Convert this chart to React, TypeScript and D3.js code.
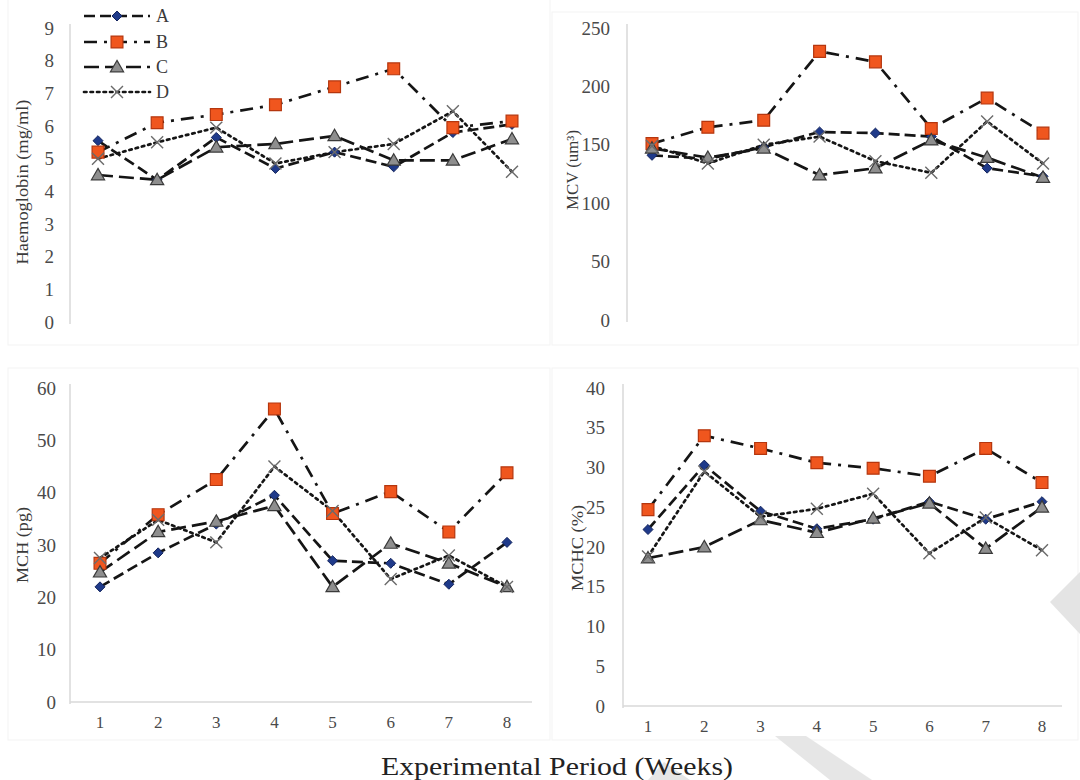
import React from "react";
import * as d3 from "d3";

const weeks = [1, 2, 3, 4, 5, 6, 7, 8];
const seriesNames = ["A", "B", "C", "D"];

const hbA = [5.55, 4.35, 5.65, 4.7, 5.2, 4.75, 5.8, 6.05];
const hbB = [5.2, 6.1, 6.35, 6.65, 7.2, 7.75, 5.95, 6.15];
const hbC = [4.5, 4.35, 5.35, 5.45, 5.7, 4.95, 4.95, 5.6];
const hbD = [5.0, 5.5, 5.95, 4.85, 5.2, 5.45, 6.45, 4.6];

const mcvA = [141, 138, 148, 161, 160, 157, 130, 123];
const mcvB = [151, 165, 171, 230, 221, 164, 190, 160];
const mcvC = [147, 139, 147, 124, 130, 154, 139, 122];
const mcvD = [149, 134, 150, 157, 136, 126, 170, 134];

const mchA = [22, 28.5, 34, 39.5, 27, 26.5, 22.5, 30.5];
const mchB = [26.5, 35.8, 42.5, 56, 36, 40.2, 32.5, 43.8];
const mchC = [24.8, 32.5, 34.5, 37.5, 22, 30.3, 26.5, 22];
const mchD = [27.5, 34.8, 30.5, 45, 36.5, 23.5, 28, 22];

const mchcA = [22.2, 30.3, 24.5, 22.3, 23.5, 25.7, 23.5, 25.7];
const mchcB = [24.7, 34, 32.4, 30.6, 29.9, 28.9, 32.4, 28.1];
const mchcC = [18.6, 20, 23.4, 21.8, 23.6, 25.5, 19.8, 25];
const mchcD = [18.8, 29.5, 23.8, 24.8, 26.7, 19.2, 23.7, 19.6];

const hbTicks = [0, 1, 2, 3, 4, 5, 6, 7, 8, 9];
const mcvTicks = [0, 50, 100, 150, 200, 250];
const mchTicks = [0, 10, 20, 30, 40, 50, 60];
const mchcTicks = [0, 5, 10, 15, 20, 25, 30, 35, 40];

const xAxisTitle = "Experimental Period (Weeks)";

const FONT = "'Liberation Serif', 'Times New Roman', serif";

type Style = { dash: string; kind: string };
const styles: Style[] = [
  { dash: "11,5", kind: "diamond" },
  { dash: "13,7,3,7", kind: "square" },
  { dash: "15,6", kind: "triangle" },
  { dash: "2.5,4", kind: "x" },
];

type PanelCfg = {
  title: string;
  titleLen: number;
  series: number[][];
  ticks: number[];
  x0: number; x1: number;
  yBottom: number; yTop: number;
  axisX: number; tickRight: number;
  titleX: number; titleY: number;
  xAxisEnd: number | null;
};

const panels: PanelCfg[] = [
  {
    title: "Haemoglobin (mg/ml)", titleLen: 165, series: [hbA, hbB, hbC, hbD], ticks: hbTicks,
    x0: 98, x1: 512, yBottom: 322, yTop: 28, axisX: 70, tickRight: 54,
    titleX: 22, titleY: 182, xAxisEnd: null,
  },
  {
    title: "MCV (um³)", titleLen: 80, series: [mcvA, mcvB, mcvC, mcvD], ticks: mcvTicks,
    x0: 652, x1: 1043, yBottom: 320, yTop: 28, axisX: 627, tickRight: 610,
    titleX: 572, titleY: 170, xAxisEnd: null,
  },
  {
    title: "MCH (pg)", titleLen: 76, series: [mchA, mchB, mchC, mchD], ticks: mchTicks,
    x0: 100, x1: 507, yBottom: 702, yTop: 388, axisX: 70, tickRight: 56,
    titleX: 22, titleY: 545, xAxisEnd: 532,
  },
  {
    title: "MCHC (%)", titleLen: 86, series: [mchcA, mchcB, mchcC, mchcD], ticks: mchcTicks,
    x0: 648, x1: 1042, yBottom: 706, yTop: 388, axisX: 623, tickRight: 605,
    titleX: 577, titleY: 548, xAxisEnd: 1062,
  },
];

function Marker({ kind, x, y }: { kind: string; x: number; y: number }) {
  if (kind === "diamond") {
    const p = d3.symbol().type(d3.symbolDiamond2).size(64)();
    return <path d={p || ""} transform={`translate(${x},${y})`} fill="#1f3a8a" stroke="#14255e" strokeWidth={1} />;
  }
  if (kind === "square") {
    const p = d3.symbol().type(d3.symbolSquare).size(140)();
    return <path d={p || ""} transform={`translate(${x},${y})`} fill="#f0561e" stroke="#b5360e" strokeWidth={1.2} />;
  }
  if (kind === "triangle") {
    const p = d3.symbol().type(d3.symbolTriangle).size(75)();
    return <path d={p || ""} transform={`translate(${x},${y + 1})`} fill="#8e8e8e" stroke="#3a3a3a" strokeWidth={1.2} />;
  }
  const p = d3.symbol().type(d3.symbolX).size(95)();
  return <path d={p || ""} transform={`translate(${x},${y})`} fill="none" stroke="#6a6a6a" strokeWidth={1.4} />;
}

function Panel({ cfg }: { cfg: PanelCfg }) {
  const x = d3.scaleLinear().domain([weeks[0], weeks[weeks.length - 1]]).range([cfg.x0, cfg.x1]);
  const y = d3.scaleLinear().domain([0, cfg.ticks[cfg.ticks.length - 1]]).range([cfg.yBottom, cfg.yTop]);
  const line = d3.line<number>().x((_, i) => x(weeks[i])).y((d) => y(d));
  return (
    <g>
      <line x1={cfg.axisX} x2={cfg.axisX} y1={cfg.yTop - 4} y2={cfg.yBottom + 2} stroke="#d9d9d9" strokeWidth={1.5} />
      {cfg.xAxisEnd !== null && (
        <line x1={cfg.axisX} x2={cfg.xAxisEnd} y1={cfg.yBottom} y2={cfg.yBottom} stroke="#d9d9d9" strokeWidth={1.5} />
      )}
      {cfg.ticks.map((t) => (
        <text key={t} x={cfg.tickRight} y={y(t)} dy="0.35em" textAnchor="end" fontSize={19} fill="#4a4a4a" fontFamily={FONT}>
          {t}
        </text>
      ))}
      {cfg.xAxisEnd !== null &&
        weeks.map((w) => (
          <text key={w} x={x(w)} y={cfg.yBottom + 20} dy="0.35em" textAnchor="middle" fontSize={17} fill="#4a4a4a" fontFamily={FONT}>
            {w}
          </text>
        ))}
      <text
        transform={`translate(${cfg.titleX},${cfg.titleY}) rotate(-90)`}
        textAnchor="middle"
        dy="0.35em"
        fontSize={16}
        fill="#3a3a3a"
        fontFamily={FONT}
        textLength={cfg.titleLen}
        lengthAdjust="spacingAndGlyphs"
      >
        {cfg.title}
      </text>
      {cfg.series.map((s, i) => (
        <path key={"l" + i} d={line(s) || ""} fill="none" stroke="#151515" strokeWidth={2.7}
          strokeDasharray={styles[i].dash} strokeLinecap={i === 3 ? "round" : "butt"} />
      ))}
      {cfg.series.map((s, i) => (
        <g key={"m" + i}>
          {s.map((v, j) => (
            <Marker key={j} kind={styles[i].kind} x={x(weeks[j])} y={y(v)} />
          ))}
        </g>
      ))}
    </g>
  );
}

function Legend() {
  const rows = [16, 42, 67, 92];
  return (
    <g>
      {seriesNames.map((n, i) => (
        <g key={n}>
          <line x1={84} x2={150} y1={rows[i]} y2={rows[i]} stroke="#151515" strokeWidth={2.7}
            strokeDasharray={styles[i].dash} strokeLinecap={i === 3 ? "round" : "butt"} />
          <Marker kind={styles[i].kind} x={117} y={rows[i]} />
          <text x={156} y={rows[i]} dy="0.35em" fontSize={18} fill="#3a3a3a" fontFamily={FONT}>{n}</text>
        </g>
      ))}
    </g>
  );
}

export default function App() {
  return (
    <svg width={1080} height={780} viewBox="0 0 1080 780"
      style={{ position: "absolute", left: 0, top: 0, background: "#fff" }}>
      <rect x={0} y={0} width={1080} height={780} fill="#fff" />
      <rect x={8} y={-2} width={542} height={347} fill="none" stroke="#f3f3f3" />
      <rect x={552} y={12} width={526} height={333} fill="none" stroke="#f3f3f3" />
      <rect x={8} y={368} width={542} height={372} fill="none" stroke="#f3f3f3" />
      <rect x={552} y={368} width={526} height={372} fill="none" stroke="#f3f3f3" />
      <polygon points="1080,572 1050,602 1080,634" fill="#e4e4e4" />
      <polygon points="775,736 806,736 872,780 830,780" fill="#e6e6e6" />
      <polygon points="648,780 664,762 690,780" fill="#e6e6e6" />
      {panels.map((p, i) => (
        <Panel key={i} cfg={p} />
      ))}
      <Legend />
      <text x={557} y={766} dy="0.35em" textAnchor="middle" fontSize={25} fill="#222" fontFamily={FONT}
        textLength={352} lengthAdjust="spacingAndGlyphs">
        {xAxisTitle}
      </text>
    </svg>
  );
}
